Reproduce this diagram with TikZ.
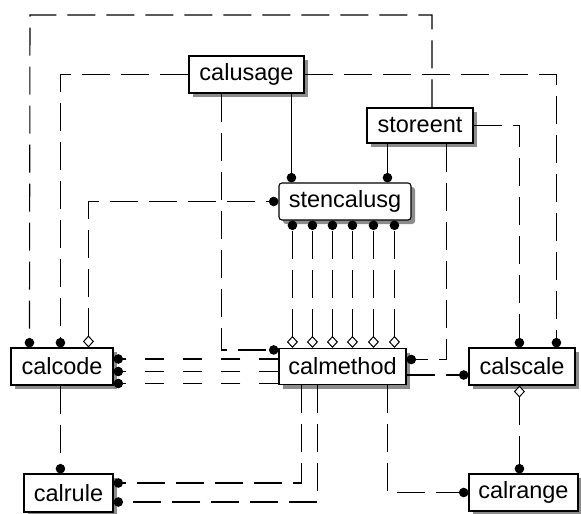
\documentclass[tikz,border=0pt]{standalone}
\usepackage{fontspec}
\setmainfont{Liberation Sans}
\usetikzlibrary{arrows.meta,shadows}
\begin{document}
\begin{tikzpicture}[x=1pt,y=-1pt,
  ent/.style={draw, line width=1.1pt, fill=white, inner sep=0pt,
    font=\fontsize{23.5}{27}\selectfont,
    drop shadow={shadow xshift=4pt, shadow yshift=-4pt, fill=black!45, opacity=1}},
  rel/.style={line width=1.1pt, dash pattern=on 28pt off 11pt},
  idrel/.style={line width=1.1pt},
  dot/.style={-{Circle[length=9.5pt]}},
  odia/.style={{Diamond[open, fill=white, length=12pt, width=11pt, line width=1pt]}-{Circle[length=9.5pt]}}
]
\useasboundingbox (0,0) rectangle (581,514);

\node[ent, minimum width=115pt, minimum height=37pt] (calusage) at (246.5,74.5) {calusage};
\node[ent, minimum width=106pt, minimum height=35pt] (storeent) at (420,125.5) {storeent};
\node[ent, rounded corners=3pt, minimum width=132pt, minimum height=37pt] (stencalusg) at (345,201.5) {stencalusg};
\node[ent, minimum width=102pt, minimum height=37pt] (calcode) at (62,366.5) {calcode};
\node[ent, minimum width=127pt, minimum height=36pt] (calmethod) at (342.5,366.5) {calmethod};
\node[ent, minimum width=106pt, minimum height=37pt] (calscale) at (522,366.5) {calscale};
\node[ent, minimum width=89pt, minimum height=38pt] (calrule) at (68.5,493) {calrule};
\node[ent, minimum width=109pt, minimum height=37pt] (calrange) at (523.5,492.5) {calrange};

% storeent -> calcode (outer loop)
\coordinate (topR) at (432,15);
\coordinate (topL) at (30,15);
\draw[rel,dot] ([xshift=12pt]storeent.north) -- (topR) -- (topL) -- ([xshift=19pt]calcode.north west);

% calusage -> calcode
\draw[rel,dot] (calusage.west) -| ([xshift=50pt]calcode.north west);
% calusage -> calscale
\draw[rel,dot] (calusage.east) -| ([xshift=88pt]calscale.north west);
% calusage -> calmethod
\draw[rel,dot] ([xshift=33pt]calusage.south west) |- ([yshift=-2pt]calmethod.north west);
% calusage -> stencalusg (identifying)
\draw[idrel,dot] ([xshift=103pt]calusage.south west) -- ([xshift=13pt]stencalusg.north west);
% storeent -> stencalusg (identifying)
\draw[idrel,dot] ([xshift=21pt]storeent.south west) -- ([xshift=109pt]stencalusg.north west);
% calcode -> stencalusg (optional)
\draw[rel,odia] ([xshift=78pt]calcode.north west) |- (stencalusg.west);
% calmethod -> stencalusg (six)
\foreach \o in {14,34,54,74,95,116}{
  \draw[rel,odia] ([xshift=\o pt]calmethod.north west) -- ([xshift=\o pt]stencalusg.south west);
}
% calmethod -> calcode (three)
\foreach \s in {7.5,-5,-17}{
  \draw[rel,dot,dash pattern=on 19pt off 19pt] ([yshift=\s pt]calmethod.west) -- ([yshift=\s pt]calcode.east);
}
% calcode -> calrule
\draw[rel,dot] ([xshift=50pt]calcode.south west) -- ([xshift=37pt]calrule.north west);
% calmethod -> calrule (two)
\draw[rel,dot] ([xshift=23pt]calmethod.south west) |- ([yshift=10pt]calrule.east);
\draw[rel,dot] ([xshift=39pt]calmethod.south west) |- ([yshift=-9pt]calrule.east);
% calmethod -> calrange
\draw[rel,dot] ([xshift=109pt]calmethod.south west) |- (calrange.west);
% storeent -> calmethod
\draw[rel,dot] ([xshift=80pt]storeent.south west) |- ([yshift=7pt]calmethod.east);
% calmethod -> calscale
\draw[rel,dot] ([yshift=-8.5pt]calmethod.east) -- ([yshift=-8.5pt]calscale.west);
% storeent -> calscale
\draw[rel,dot] (storeent.east) -| ([xshift=51pt]calscale.north west);
% calscale -> calrange
\draw[rel,odia] ([xshift=51pt]calscale.south west) -- ([xshift=51pt]calrange.north west);
\end{tikzpicture}
\end{document}
